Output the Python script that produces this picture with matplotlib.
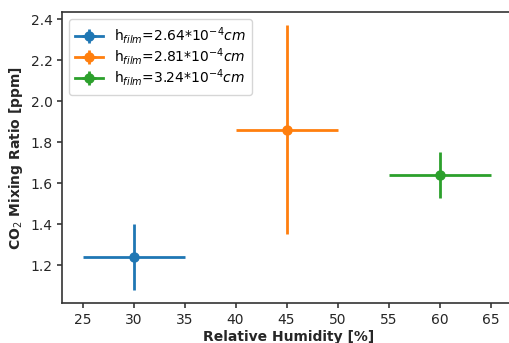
import matplotlib
matplotlib.use("Agg")
import matplotlib.pyplot as plt

humidity = [30, 45, 60]
humidity_err = [5, 5, 5]
co2 = [1.24, 1.862, 1.638]
co2_err = [0.16, 0.512, 0.112]
labels = [r'h$_{film}$=2.64*10$^{-4}cm$',
          r'h$_{film}$=2.81*10$^{-4}cm$',
          r'h$_{film}$=3.24*10$^{-4}cm$']
colors = ['#1f77b4', '#ff7f0e', '#2ca02c']

fig = plt.figure(figsize=(5.09, 3.43), dpi=100)
ax = fig.add_axes([0.122, 0.1166, 0.892, 0.848])
for x, xe, y, ye, lab, c in zip(humidity, humidity_err, co2, co2_err, labels, colors):
    ax.errorbar([x], [y], xerr=[xe], yerr=[ye], fmt='-o', color=c, lw=2, ms=6.5, label=lab)

ax.set_xlim(23, 67.5)
ax.set_ylim(1.015, 2.435)
ax.set_xticks([25, 30, 35, 40, 45, 50, 55, 60, 65])
ax.set_yticks([1.2, 1.4, 1.6, 1.8, 2.0, 2.2, 2.4])
ax.tick_params(labelsize=10, colors='#262626', width=1.1)
for s in ax.spines.values():
    s.set_linewidth(1.2)
    s.set_color('#333333')
ax.spines['right'].set_visible(False)
ax.set_xlabel('Relative Humidity [%]', fontweight='bold', fontsize=10, color='#262626', labelpad=2)
ax.set_ylabel('CO$_2$ Mixing Ratio [ppm]', fontweight='bold', fontsize=10, color='#262626')
ax.legend(loc='upper left', fontsize=10, labelspacing=0.0, borderpad=0.45)
fig.savefig('out.png', dpi=100)
